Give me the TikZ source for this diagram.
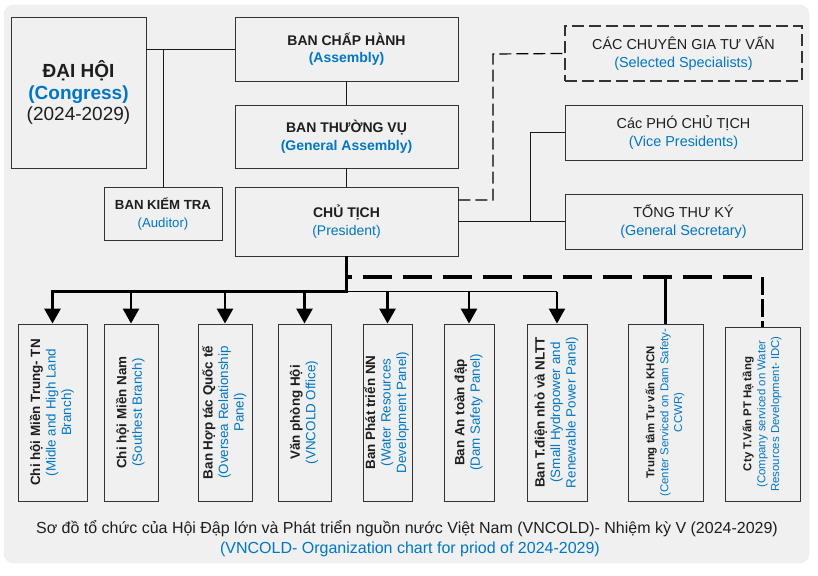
\documentclass[tikz,border=0pt]{standalone}
\usepackage{fontspec}
\setmainfont{Liberation Sans}
\usetikzlibrary{arrows.meta,calc}
\definecolor{vblue}{RGB}{0,118,196}
\definecolor{bgc}{RGB}{240,240,240}
\definecolor{edge}{RGB}{51,51,51}
\definecolor{txt}{RGB}{30,30,30}
\newcommand\blu[1]{\textcolor{vblue}{#1}}
\newcommand\vtext[1]{\rotatebox{90}{\begin{tabular}{@{}c@{}}#1\end{tabular}}}
\begin{document}
\begin{tikzpicture}[x=1pt,y=-1pt,
  box/.style={draw=edge, line width=0.9pt, align=center, inner sep=0pt, text=txt},
  dbox/.style={box, line width=1.1pt, dash pattern=on 12pt off 5pt},
  conn/.style={draw=black!90, line width=0.9pt},
  dconn/.style={draw=black, line width=1.2pt, dash pattern=on 12pt off 5pt},
  trunk/.style={line width=2.8pt, black},
  arr/.style={line width=2.8pt, black, -{Triangle[width=16pt,length=15pt]}},
  dtrunk/.style={line width=3.8pt, black, dash pattern=on 29pt off 11pt},
  fa/.style={font=\fontsize{19}{21.5}\selectfont},
  fb/.style={font=\fontsize{14}{17.5}\selectfont},
  fr/.style={font=\fontsize{14.4}{17.5}\selectfont},
  fc/.style={font=\fontsize{13.2}{18}\selectfont},
  fv/.style={font=\fontsize{13.4}{15.5}\selectfont},
  fs/.style={font=\fontsize{11.4}{13.8}\selectfont},
]
\useasboundingbox (0,0) rectangle (818,575);
\fill[white] (0,0) rectangle (818,575);
\draw[rounded corners=10pt, fill=bgc, draw=black!8] (4,5) rectangle (809,563);

% top-left block
\node[box, fa, minimum width=135, minimum height=151] (dh) at (78.5,92.5)
  {\textbf{ĐẠI HỘI}\\\textbf{\blu{(Congress)}}\\(2024-2029)};
\node[box, fb, minimum width=223, minimum height=64] (bch) at (346.5,49)
  {\textbf{BAN CHẤP HÀNH}\\\textbf{\blu{(Assembly)}}};
\node[box, fb, minimum width=223, minimum height=63] (btv) at (346.5,136.5)
  {\textbf{BAN THƯỜNG VỤ}\\\textbf{\blu{(General Assembly)}}};
\node[box, fc, minimum width=118, minimum height=53] (kt) at (163,213.5)
  {\textbf{BAN KIỂM TRA}\\\blu{(Auditor)}};
\node[box, fb, minimum width=223, minimum height=69] (ct) at (346.5,221.5)
  {\textbf{CHỦ TỊCH}\\\blu{(President)}};

% right block
\node[dbox, fr, minimum width=237, minimum height=55] (sp) at (683.5,53.5)
  {CÁC CHUYÊN GIA TƯ VẤN\\\blu{(Selected Specialists)}};
\node[box, fr, minimum width=237, minimum height=55] (vp) at (683.5,132.5)
  {Các PHÓ CHỦ TỊCH\\\blu{(Vice Presidents)}};
\node[box, fr, minimum width=237, minimum height=55] (tk) at (683.5,221.5)
  {TỔNG THƯ KÝ\\\blu{(General Secretary)}};

% bottom boxes
\node[box, fv, minimum width=69, minimum height=177] (b1) at (52.5,412.5)
  {\vtext{\textbf{Chi hội Miền Trung- TN}\\\blu{(Midle and High Land}\\\blu{Branch)}}};
\node[box, fv, minimum width=54, minimum height=177] (b2) at (131,412.5)
  {\vtext{\textbf{Chi hội Miền Nam}\\\blu{(Southest Branch)}}};
\node[box, fv, minimum width=54, minimum height=177] (b3) at (225,412.5)
  {\vtext{\textbf{Ban Hợp tác Quốc tế}\\\blu{(Oversea Relationship}\\\blu{Panel)}}};
\node[box, fv, minimum width=53, minimum height=177] (b4) at (304.5,412.5)
  {\vtext{\textbf{Văn phòng Hội}\\\blu{(VNCOLD Office)}}};
\node[box, fv, minimum width=49, minimum height=177] (b5) at (387.5,412.5)
  {\vtext{\textbf{Ban Phát triển NN}\\\blu{(Water Resources}\\\blu{Development Panel)}}};
\node[box, fv, minimum width=50, minimum height=177] (b6) at (469,412.5)
  {\vtext{\textbf{Ban An toàn đập}\\\blu{(Dam Safety Panel)}}};
\node[box, fv, minimum width=60, minimum height=177] (b7) at (557,412.5)
  {\vtext{\textbf{Ban T.điện nhỏ và NLTT}\\\blu{(Small Hydropower and}\\\blu{Renewable Power Panel)}}};
\node[box, fs, minimum width=75, minimum height=177] (b8) at (665.5,412.5)
  {\vtext{\textbf{Trung tâm Tư vấn KHCN}\\\blu{(Center Serviced on Dam Safety-}\\\blu{CCWR)}}};
\node[box, fs, minimum width=75, minimum height=174] (b9) at (762.5,414)
  {\vtext{\textbf{Cty T.Vấn PT Hạ tầng}\\\blu{(Company serviced on Water}\\\blu{Resources Development- IDC)}}};

% caption
\node[font=\fontsize{16}{18}\selectfont, text=txt, inner sep=0pt] (cap1) at (407,529)
  {Sơ đồ tổ chức của Hội Đập lớn và Phát triển nguồn nước Việt Nam (VNCOLD)- Nhiệm kỳ V (2024-2029)};
\node[font=\fontsize{16}{18}\selectfont, text=vblue, inner sep=0pt] (cap2) at (410,549)
  {(VNCOLD- Organization chart for priod of 2024-2029)};

% top connectors
\draw[conn] (dh.east |- bch.west) -- (bch.west);
\draw[conn] (kt.north) -- (kt.north |- bch.west);
\draw[conn] (bch.south) -- (btv.north);
\draw[conn] (btv.south) -- (ct.north);
\draw[conn] (ct.east) -- (tk.west);
\coordinate (R) at (530,221.5);
\draw[conn] (R) |- (vp.west);
\draw[dconn] ($(ct.east)+(0,-21.5)$) -| (493,54) -- (sp.west);

% bottom connectors
\coordinate (J) at (346.5,291.5);
\coordinate (D) at (346.5,277);
\draw[trunk] (ct.south) -- (J);
\draw[trunk, line cap=rect] (J) -- (b1.north |- J);
\draw[line width=1.8pt] (J) -- (b7.north |- J);
\foreach \b in {b1,b2,b3,b4,b5,b6}
  \draw[arr] (\b.north |- J) -- (\b.north);
\draw[arr, line width=2.2pt] (b7.north |- J) -- (b7.north);
\draw[dtrunk, dash phase=24pt] (D) -- (b9.north |- D);
\draw[line width=3pt] (b8.north |- D) -- (b8.north);
\draw[line width=3pt, dash pattern=on 18pt off 4pt] (b9.north |- D) -- (b9.north);
\end{tikzpicture}
\end{document}
